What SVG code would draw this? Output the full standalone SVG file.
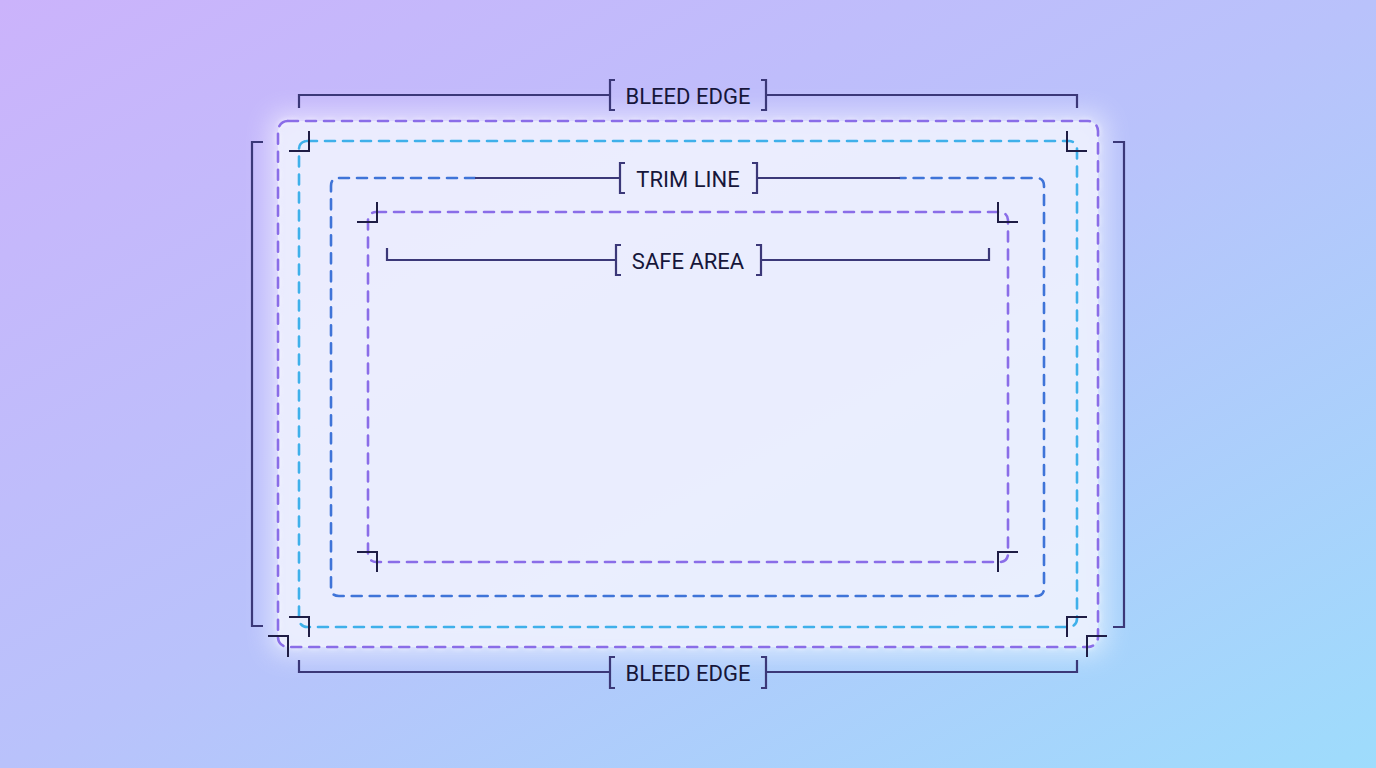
<svg xmlns="http://www.w3.org/2000/svg" width="1376" height="768" viewBox="0 0 1376 768">
<defs>
<linearGradient id="bg" x1="0" y1="0" x2="1" y2="1">
<stop offset="0" stop-color="#cbb3fb"/>
<stop offset="0.5" stop-color="#b9c2fb"/>
<stop offset="1" stop-color="#9edcfc"/>
</linearGradient>
<filter id="glow" x="-20%" y="-20%" width="140%" height="140%"><feGaussianBlur stdDeviation="12"/></filter>
<filter id="soft" x="-5%" y="-5%" width="110%" height="110%"><feGaussianBlur stdDeviation="2.5"/></filter>
<style>
.d{fill:none;stroke-width:2.6;stroke-dasharray:10 8;stroke-linecap:round}
.ln{fill:none;stroke:#3b3878;stroke-width:2.2}
.cm{fill:none;stroke:#1f1d45;stroke-width:2}
.t{font-family:Roboto,"Liberation Sans",sans-serif;font-size:22px;fill:#16163a;text-anchor:middle}
</style>
</defs>
<rect width="1376" height="768" fill="url(#bg)"/>
<rect x="270" y="113" width="836" height="542" rx="14" fill="#ffffff" opacity="0.55" filter="url(#glow)"/>
<rect x="278" y="121" width="820" height="526" rx="10" fill="#eef0fd" opacity="0.75"/>
<g id="bleed-rect"><rect x="278" y="121" width="820" height="526" rx="10" class="d" stroke="#ffffff" stroke-width="7" filter="url(#soft)" opacity="0.8"/><rect x="278" y="121" width="820" height="526" rx="10" class="d" stroke="#8a6de8"/></g>
<g id="trim-rect"><rect x="299" y="141" width="778" height="486" rx="8" class="d" stroke="#3fb0ea"/></g>
<g id="blue-rect"><path d="M475 178 H339 Q331 178 331 186 V588 Q331 596 339 596 H1036 Q1044 596 1044 588 V186 Q1044 178 1036 178 H900" class="d" stroke="#3f74d8"/></g>
<g id="safe-rect"><rect x="368" y="212" width="640" height="350" rx="8" class="d" stroke="#8a6de8"/></g>
<g id="connectors">
<path class="ln" d="M299 108 V95 H610 M615 80 H610 V110 H615 M761 80 H766 V110 H761 M766 95 H1077 V108"/>
<path class="ln" d="M299 660 V672 H610 M615 657 H610 V688 H615 M761 657 H766 V688 H761 M766 672 H1077 V660"/>
<path class="ln" d="M475 178 H620 M625 163 H620 V193 H625 M752 163 H757 V193 H752 M757 178 H900"/>
<path class="ln" d="M387 248 V260 H616 M621 245 H616 V275 H621 M756 245 H761 V275 H756 M761 260 H989 V248"/>
<path class="ln" d="M263 142 H252 V626 H263"/>
<path class="ln" d="M1113 142 H1124 V627 H1113"/>
<path class="cm" d="M309 131 V151 H289 M1067 131 V151 H1087 M289 617 H309 V637 M1087 617 H1067 V637"/>
<path class="cm" d="M377 202 V222 H357 M998 202 V222 H1018 M357 552 H377 V572 M1018 552 H998 V572"/>
<path class="cm" d="M268 636 H288 V657 M1107 636 H1087 V657"/>
</g>
<g id="label-bleed-top"><text class="t" x="688" y="104">BLEED EDGE</text></g>
<g id="label-trim"><text class="t" x="688" y="187">TRIM LINE</text></g>
<g id="label-safe"><text class="t" x="688" y="269">SAFE AREA</text></g>
<g id="label-bleed-bottom"><text class="t" x="688" y="681">BLEED EDGE</text></g>
</svg>
